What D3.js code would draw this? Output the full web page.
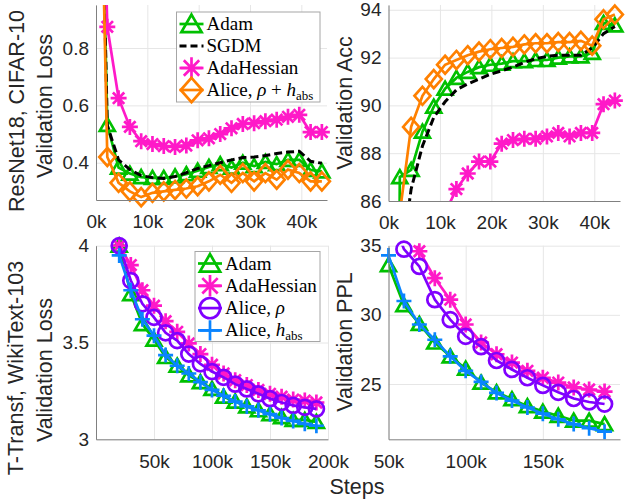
<!DOCTYPE html>
<html>
<head>
<meta charset="utf-8">
<script src="https://cdn.jsdelivr.net/npm/d3@7"></script>
<style>
  body { margin: 0; background: #fff; }
  svg { display: block; }
</style>
</head>
<body>
<div id="chart"></div>
<script>
// ResNet18 / CIFAR-10 evaluation steps
var cifarSteps = [0, 2200, 4400, 6600, 8800, 11000, 13200, 15400, 17600, 19800, 22000,
  24200, 26400, 28600, 30800, 33000, 35200, 37400, 39600, 41800, 44000];

var cifarLossAdam = [2.30, 0.532, 0.383, 0.362, 0.35, 0.347, 0.347, 0.352, 0.36, 0.372, 0.385,
  0.395, 0.383, 0.40, 0.388, 0.403, 0.395, 0.41, 0.41, 0.375, 0.37];
var cifarLossSgdm = [2.30, 0.53, 0.41, 0.376, 0.355, 0.348, 0.345, 0.352, 0.365, 0.38, 0.39,
  0.40, 0.41, 0.418, 0.42, 0.425, 0.432, 0.437, 0.44, 0.405, 0.398];
var cifarLossAdaHessian = [2.30, 0.874, 0.625, 0.525, 0.475, 0.465, 0.458, 0.455, 0.46, 0.478, 0.485,
  0.50, 0.52, 0.535, 0.538, 0.545, 0.55, 0.56, 0.567, 0.507, 0.507];
var cifarLossAlice = [2.30, 0.42, 0.33, 0.30, 0.28, 0.295, 0.30, 0.305, 0.31, 0.318, 0.335,
  0.358, 0.33, 0.364, 0.335, 0.364, 0.341, 0.376, 0.364, 0.335, 0.335];

var cifarAccAdam = [10, 87.0, 87.3, 88.9, 89.95, 90.7, 91.15, 91.4, 91.6, 91.7, 91.75,
  91.85, 91.85, 91.9, 91.9, 92.0, 92.05, 92.05, 92.2, 93.45, 93.35];
var cifarAccSgdm = [10, 83.0, 86.5, 88.3, 89.5, 90.15, 90.65, 90.9, 91.1, 91.3, 91.45,
  91.6, 91.8, 91.95, 92.05, 92.1, 92.1, 92.1, 92.4, 93.0, 93.3];
var cifarAccAdaHessian = [10, 70, 78, 82, 84.5, 85.5, 86.5, 87.15, 87.65, 87.65, 88.4,
  88.55, 88.6, 88.6, 88.7, 88.85, 88.7, 88.85, 88.85, 90.05, 90.2];
var cifarAccAlice = [10, 85.5, 89.1, 90.4, 91.1, 91.7, 91.9, 92.1, 92.25, 92.35, 92.4,
  92.45, 92.55, 92.6, 92.6, 92.65, 92.65, 92.7, 92.5, 93.6, 93.8];

// Transformer / WikiText-103 evaluation steps
var wikiSteps = [20000, 30000, 40000, 50000, 60000, 70000, 80000, 90000, 100000,
  110000, 120000, 130000, 140000, 150000, 160000, 170000, 180000, 190000];

var wikiLossAdam = [4.0, 3.75, 3.595, 3.515, 3.425, 3.38, 3.33, 3.295, 3.26,
  3.22, 3.195, 3.17, 3.15, 3.13, 3.115, 3.1, 3.1, 3.09];
var wikiLossAdaHessian = [4.0, 3.9, 3.77, 3.69, 3.61, 3.555, 3.495, 3.44, 3.385,
  3.34, 3.305, 3.28, 3.255, 3.235, 3.22, 3.205, 3.2, 3.19];
var wikiLossAliceRho = [4.0, 3.82, 3.70, 3.63, 3.55, 3.51, 3.44, 3.39, 3.35,
  3.32, 3.285, 3.26, 3.235, 3.21, 3.19, 3.175, 3.165, 3.157];
var wikiLossAliceH = [3.95, 3.77, 3.62, 3.535, 3.435, 3.38, 3.34, 3.295, 3.255,
  3.225, 3.195, 3.17, 3.15, 3.13, 3.11, 3.095, 3.08, 3.07];

var wikiPplAdam = [54.6, 42.5, 36.4, 33.6, 30.7, 29.35, 28.0, 27.0, 26.1,
  25.1, 24.4, 23.9, 23.4, 23.0, 22.7, 22.35, 22.35, 22.1];
var wikiPplAdaHessian = [54.6, 49.4, 43.4, 40.0, 37.0, 34.6, 32.65, 31.1, 29.3,
  28.0, 27.15, 26.55, 25.95, 25.45, 25.1, 24.75, 24.6, 24.45];
var wikiPplAliceRho = [54.6, 45.6, 40.4, 37.7, 34.75, 33.5, 31.1, 29.65, 28.45,
  27.7, 26.7, 26.05, 25.45, 24.9, 24.4, 23.95, 23.7, 23.55];
var wikiPplAliceH = [51.9, 43.4, 37.3, 34.3, 31.0, 29.3, 28.2, 27.0, 25.95,
  25.15, 24.35, 23.8, 23.3, 22.85, 22.45, 22.1, 21.8, 21.55];

// tick values
var cifarStepTicks = [0, 10000, 20000, 30000, 40000];
var cifarLossTicks = [0.4, 0.6, 0.8];
var cifarAccTicks = [86, 88, 90, 92, 94];
var wikiLossStepTicks = [50000, 100000, 150000, 200000];
var wikiPplStepTicks = [50000, 100000, 150000];
var wikiLossTicks = [3, 3.5, 4];
var wikiPplTicks = [25, 30, 35];

var GREEN = "#00c000", MAGENTA = "#ff19c8", ORANGE = "#ff8000",
    PURPLE = "#8000ff", BLUE = "#0a84ff", BLACK = "#000";

var svg = d3.select("#chart")
  .append("svg")
  .attr("width", 625)
  .attr("height", 500);

var defs = svg.append("defs");
var clipCount = 0;
var kFormat = function(d) { return (d / 1000) + "k"; };

// marker shapes, s = scale
function markerPath(type, s) {
  if (type === "triangle") return "M0," + (-7 * s) + "L" + (7.5 * s) + "," + (6 * s) + "L" + (-7.5 * s) + "," + (6 * s) + "Z";
  if (type === "diamond") return "M0," + (-9 * s) + "L" + (8 * s) + ",0L0," + (9 * s) + "L" + (-8 * s) + ",0Z";
  if (type === "asterisk") return "M" + (-8 * s) + ",0H" + (8 * s) + "M0," + (-8 * s) + "V" + (8 * s) +
    "M" + (-5.7 * s) + "," + (-5.7 * s) + "L" + (5.7 * s) + "," + (5.7 * s) + "M" + (-5.7 * s) + "," + (5.7 * s) + "L" + (5.7 * s) + "," + (-5.7 * s);
  if (type === "plus") return "M" + (-7.5 * s) + ",0H" + (7.5 * s) + "M0," + (-7.5 * s) + "V" + (7.5 * s);
  if (type === "circle") return d3.arc()({ innerRadius: 0, outerRadius: 7.5 * s, startAngle: 0, endAngle: 2 * Math.PI });
  return null;
}

function drawMarker(g, type, color, cx, cy, s) {
  var d = markerPath(type, s);
  if (!d) return;
  g.append("path")
    .attr("d", d)
    .attr("transform", "translate(" + cx + "," + cy + ")")
    .attr("fill", "none")
    .attr("stroke", color)
    .attr("stroke-width", 2.7)
    .attr("stroke-linejoin", "miter");
}

function drawPanel(p) {
  var x = d3.scaleLinear().domain(p.xDomain).range([p.left, p.right]);
  var y = d3.scaleLinear().domain(p.yDomain).range([p.bottom, p.top]);
  var h = p.bottom - p.top, w = p.right - p.left;

  var id = "clip" + (clipCount++);
  defs.append("clipPath").attr("id", id)
    .append("rect")
    .attr("x", p.left).attr("y", p.top)
    .attr("width", w).attr("height", h);

  // grid lines
  svg.append("g")
    .attr("transform", "translate(0," + p.bottom + ")")
    .call(d3.axisBottom(x).tickValues(p.xTicks).tickSize(-h).tickFormat(""))
    .call(function(g) { g.select(".domain").remove(); })
    .selectAll("line").attr("stroke", "#e6e6e6");
  svg.append("g")
    .attr("transform", "translate(" + p.left + ",0)")
    .call(d3.axisLeft(y).tickValues(p.yTicks).tickSize(-w).tickFormat(""))
    .call(function(g) { g.select(".domain").remove(); })
    .selectAll("line").attr("stroke", "#e6e6e6");

  // series: lines clipped, markers drawn whole
  p.series.forEach(function(s) {
    var pts = s.y.map(function(v, i) { return [s.x[i], v]; });
    svg.append("path")
      .datum(pts)
      .attr("clip-path", "url(#" + id + ")")
      .attr("fill", "none")
      .attr("stroke", s.color)
      .attr("stroke-width", s.dash ? 3 : 2.7)
      .attr("stroke-dasharray", s.dash ? "8,4" : null)
      .attr("d", d3.line().x(function(d) { return x(d[0]); }).y(function(d) { return y(d[1]); }));
    var mg = svg.append("g");
    pts.forEach(function(d) {
      if (d[0] < p.xDomain[0] || d[0] > p.xDomain[1] || d[1] < p.yDomain[0] || d[1] > p.yDomain[1]) return;
      drawMarker(mg, s.marker, s.color, x(d[0]), y(d[1]), 1);
    });
  });

  // axes
  var xAxis = svg.append("g")
    .attr("transform", "translate(0," + p.bottom + ")")
    .call(d3.axisBottom(x).tickValues(p.xTicks).tickFormat(p.xFormat).tickSize(0).tickPadding(15));
  var yAxis = svg.append("g")
    .attr("transform", "translate(" + p.left + ",0)")
    .call(d3.axisLeft(y).tickValues(p.yTicks).tickFormat(p.yFormat).tickSize(0).tickPadding(7));
  [xAxis, yAxis].forEach(function(a) {
    a.attr("font-family", "'Liberation Sans', Arial, sans-serif").attr("font-size", 19);
    a.select(".domain").attr("stroke", "#808080").attr("stroke-width", 1);
    a.selectAll("text").attr("fill", "#262626");
  });
}

function axisLabel(text, cx, cy) {
  svg.append("text")
    .attr("transform", "translate(" + cx + "," + cy + ") rotate(-90)")
    .attr("text-anchor", "middle")
    .attr("dominant-baseline", "central")
    .style("font-family", "'Liberation Sans', Arial, sans-serif")
    .style("font-size", "21.5px")
    .style("fill", "#262626")
    .text(text);
}

// legend entries: label parts are [text, italic?, subscript?]
function drawLegend(box, items) {
  var g = svg.append("g");
  g.append("rect")
    .attr("x", box.x).attr("y", box.y)
    .attr("width", box.w).attr("height", box.h)
    .attr("fill", "#fff")
    .attr("stroke", "#a6a6a6")
    .attr("stroke-width", 1);
  items.forEach(function(it, i) {
    var cy = box.y + 12 + i * box.step;
    g.append("line")
      .attr("x1", box.x + 3).attr("x2", box.x + 27)
      .attr("y1", cy).attr("y2", cy)
      .attr("stroke", it.color)
      .attr("stroke-width", it.dash ? 3 : 2.7)
      .attr("stroke-dasharray", it.dash ? "7,4" : null);
    drawMarker(g, it.marker, it.color, box.x + 15, cy, 1.35);
    var t = g.append("text")
      .attr("x", box.x + 30).attr("y", cy + 6)
      .style("font-family", "'Liberation Serif', 'Times New Roman', serif")
      .style("font-size", "19px")
      .style("fill", "#000");
    it.label.forEach(function(part) {
      var ts = t.append("tspan").text(part[0]);
      if (part[1]) ts.style("font-style", "italic");
      if (part[2]) ts.attr("dy", 4).style("font-size", "13px");
    });
  });
}

// top-left: CIFAR-10 loss
drawPanel({
  left: 96, right: 327, top: 5, bottom: 200,
  xDomain: [0, 45000], yDomain: [0.27, 0.95],
  xTicks: cifarStepTicks, xFormat: kFormat,
  yTicks: cifarLossTicks, yFormat: d3.format(".1f"),
  series: [
    { x: cifarSteps, y: cifarLossAdam, color: GREEN, marker: "triangle" },
    { x: cifarSteps, y: cifarLossSgdm, color: BLACK, marker: null, dash: true },
    { x: cifarSteps, y: cifarLossAdaHessian, color: MAGENTA, marker: "asterisk" },
    { x: cifarSteps, y: cifarLossAlice, color: ORANGE, marker: "diamond" }
  ]
});

// top-right: CIFAR-10 accuracy
drawPanel({
  left: 388.5, right: 620, top: 5, bottom: 201,
  xDomain: [0, 45000], yDomain: [86, 94.2],
  xTicks: cifarStepTicks, xFormat: kFormat,
  yTicks: cifarAccTicks, yFormat: d3.format("d"),
  series: [
    { x: cifarSteps, y: cifarAccAdam, color: GREEN, marker: "triangle" },
    { x: cifarSteps, y: cifarAccSgdm, color: BLACK, marker: null, dash: true },
    { x: cifarSteps, y: cifarAccAdaHessian, color: MAGENTA, marker: "asterisk" },
    { x: cifarSteps, y: cifarAccAlice, color: ORANGE, marker: "diamond" }
  ]
});

// bottom-left: WikiText-103 loss
drawPanel({
  left: 96, right: 328, top: 245.7, bottom: 439.3,
  xDomain: [0, 200000], yDomain: [3, 4],
  xTicks: wikiLossStepTicks, xFormat: kFormat,
  yTicks: wikiLossTicks, yFormat: d3.format("~g"),
  series: [
    { x: wikiSteps, y: wikiLossAdam, color: GREEN, marker: "triangle" },
    { x: wikiSteps, y: wikiLossAdaHessian, color: MAGENTA, marker: "asterisk" },
    { x: wikiSteps, y: wikiLossAliceRho, color: PURPLE, marker: "circle" },
    { x: wikiSteps, y: wikiLossAliceH, color: BLUE, marker: "plus" }
  ]
});

// bottom-right: WikiText-103 perplexity
drawPanel({
  left: 388.5, right: 620, top: 245.7, bottom: 439.3,
  xDomain: [50000, 200000], yDomain: [21, 35],
  xTicks: wikiPplStepTicks, xFormat: kFormat,
  yTicks: wikiPplTicks, yFormat: d3.format("d"),
  series: [
    { x: wikiSteps, y: wikiPplAdam, color: GREEN, marker: "triangle" },
    { x: wikiSteps, y: wikiPplAdaHessian, color: MAGENTA, marker: "asterisk" },
    { x: wikiSteps, y: wikiPplAliceRho, color: PURPLE, marker: "circle" },
    { x: wikiSteps, y: wikiPplAliceH, color: BLUE, marker: "plus" }
  ]
});

// legends
drawLegend({ x: 176.5, y: 12, w: 143.5, h: 90, step: 22 }, [
  { color: GREEN, marker: "triangle", label: [["Adam"]] },
  { color: BLACK, marker: null, dash: true, label: [["SGDM"]] },
  { color: MAGENTA, marker: "asterisk", label: [["AdaHessian"]] },
  { color: ORANGE, marker: "diamond", label: [["Alice, "], ["\u03c1", true], [" + "], ["h", true], ["abs", false, true]] }
]);
drawLegend({ x: 195, y: 251.5, w: 125, h: 90, step: 22.3 }, [
  { color: GREEN, marker: "triangle", label: [["Adam"]] },
  { color: MAGENTA, marker: "asterisk", label: [["AdaHessian"]] },
  { color: PURPLE, marker: "circle", label: [["Alice, "], ["\u03c1", true]] },
  { color: BLUE, marker: "plus", label: [["Alice, "], ["h", true], ["abs", false, true]] }
]);

// axis titles
axisLabel("ResNet18, CIFAR-10", 17, 111);
axisLabel("Validation Loss", 45, 106);
axisLabel("Validation Acc", 345, 103);
axisLabel("T-Transf, WikiText-103", 16, 368);
axisLabel("Validation Loss", 45, 370);
axisLabel("Validation PPL", 345, 342);

svg.append("text")
  .attr("x", 357).attr("y", 494)
  .attr("text-anchor", "middle")
  .style("font-family", "'Liberation Sans', Arial, sans-serif")
  .style("font-size", "21.5px")
  .style("fill", "#262626")
  .text("Steps");
</script>
</body>
</html>
